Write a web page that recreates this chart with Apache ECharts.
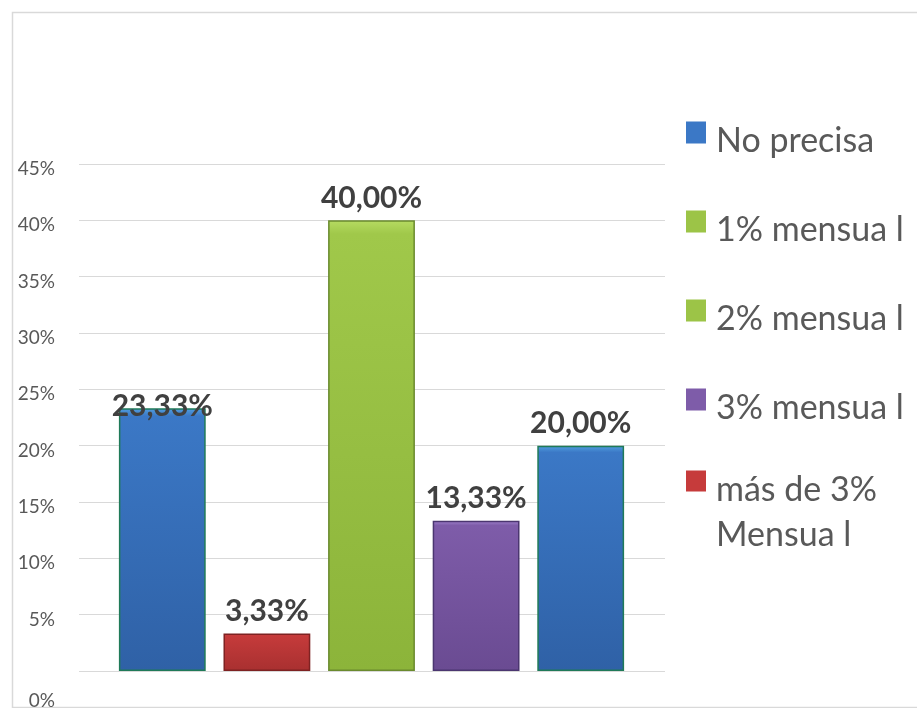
<!DOCTYPE html>
<html>
<head>
<meta charset="utf-8">
<script src="https://cdn.jsdelivr.net/npm/echarts@6/dist/echarts.min.js"></script>
<style>
  html, body { margin: 0; padding: 0; background: #fff; }
  #chart { width: 917px; height: 708px; }
</style>
</head>
<body>
<div id="chart"></div>
<script>
  // values (percent)
  var categories = ["No precisa", "1% mensua l", "2% mensua l", "3% mensua l", "más de 3%\nMensua l"];
  var values = [23.33, 3.33, 40.00, 13.33, 20.00];
  var legendNames = ["No precisa", "1% mensua l", "2% mensua l", "3% mensua l", "más de 3%\nMensua l"];
  var yTicks = { min: 0, max: 45, step: 5 };

  // bar fills: [top, body, bottom, border]
  var barColors = [
    ["#52a0e0", "#3b78c6", "#2f61a6", "#1f7a58"],
    ["#e25a5a", "#c63b3b", "#a83030", "#7e2222"],
    ["#b6dc62", "#a0c84a", "#8cb43a", "#6a8a2e"],
    ["#a184cf", "#7e5ca9", "#6a4b92", "#4b3670"],
    ["#52a0e0", "#3b78c6", "#2f61a6", "#1f7a58"]
  ];
  var legendColors = ["#3b78c6", "#9cc447", "#9cc447", "#7e5ca9", "#c63b3b"];

  function grad(c) {
    return new echarts.graphic.LinearGradient(0, 0, 0, 1, [
      { offset: 0, color: c[0] },
      { offset: 0.03, color: c[1] },
      { offset: 1, color: c[2] }
    ]);
  }

  function fmt(v) {
    return v.toFixed(2).replace(".", ",") + "%";
  }

  // tall legend icons so the square sits above the text's middle like the original
  var iconSingle = "path://M0,0L0.01,0Z M0,22L20,22L20,44L0,44Z M0,84L0.01,84Z";
  var iconDouble = "path://M0,0L20,0L20,21L0,21Z M0,84L0.01,84Z";

  var font = "Lato, 'Open Sans', sans-serif";

  var barData = values.map(function (v, i) {
    var item = {
      value: v,
      itemStyle: { color: grad(barColors[i]), borderColor: barColors[i][3], borderWidth: 1.5 }
    };
    if (i === 0) item.label = { distance: -13 };
    return item;
  });

  var legendSeries = legendNames.map(function (n, i) {
    return {
      name: n, type: "bar", data: [], xAxisIndex: 0, yAxisIndex: 0,
      itemStyle: { color: legendColors[i] }
    };
  });

  var chart = echarts.init(document.getElementById("chart"), null, { renderer: "canvas" });
  chart.setOption({
    animation: false,
    backgroundColor: "#ffffff",
    textStyle: { fontFamily: font },
    graphic: [{
      type: "rect", left: 10, top: 10, silent: true, z: -10,
      shape: { width: 930, height: 695 },
      style: { fill: "none", stroke: "#d9d9d9", lineWidth: 1.5 }
    }],
    legend: {
      orient: "vertical", left: 686, top: 99.5, padding: 0,
      itemWidth: 20, itemHeight: 84, itemGap: 5,
      selectedMode: false,
      textStyle: { fontFamily: font, fontSize: 34, lineHeight: 45, color: "#595959", padding: [0, 0, 0, 5] },
      data: legendNames.map(function (n, i) {
        var last = i === legendNames.length - 1;
        var d = { name: n, icon: last ? iconDouble : iconSingle };
        if (last) d.textStyle = { padding: [12, 0, 12, 5] };
        return d;
      })
    },
    grid: [
      { left: 79, right: 252, top: 164, bottom: 37, containLabel: false, outerBoundsMode: "none" },
      { left: 110, right: 284, top: 164, bottom: 37, containLabel: false, outerBoundsMode: "none" }
    ],
    xAxis: [
      { type: "category", gridIndex: 0, data: categories, show: false },
      { type: "category", gridIndex: 1, data: categories, show: false }
    ],
    yAxis: [
      {
        type: "value", gridIndex: 0, position: "left", min: yTicks.min, max: yTicks.max, interval: yTicks.step,
        axisLine: { show: false }, axisTick: { show: false },
        splitLine: { lineStyle: { color: "#d9d9d9", width: 1 } },
        axisLabel: {
          margin: 24, fontSize: 19, color: "#595959", fontFamily: font,
          verticalAlign: "top", lineHeight: 10,
          formatter: function (v) { return v === 0 ? "" : v + "%"; }
        }
      },
      {
        type: "value", gridIndex: 0, position: "left", offset: 0,
        min: yTicks.min, max: yTicks.max, interval: yTicks.step,
        axisLine: { show: false }, axisTick: { show: false }, splitLine: { show: false },
        axisLabel: {
          margin: 24, fontSize: 19, color: "#595959", fontFamily: font,
          verticalAlign: "top", lineHeight: 59,
          formatter: function (v) { return v === 0 ? "0%" : ""; }
        }
      },
      {
        type: "value", gridIndex: 1, min: yTicks.min, max: yTicks.max, interval: yTicks.step,
        show: false, splitLine: { show: false }
      }
    ],
    series: legendSeries.concat([{
      name: "valores", type: "bar", xAxisIndex: 1, yAxisIndex: 2,
      barWidth: "83%", data: barData,
      label: {
        show: true, position: "top", distance: 7,
        fontFamily: font, fontSize: 30, fontWeight: "bold", color: "#404040",
        formatter: function (p) { return fmt(p.value); }
      }
    }])
  });
</script>
</body>
</html>
